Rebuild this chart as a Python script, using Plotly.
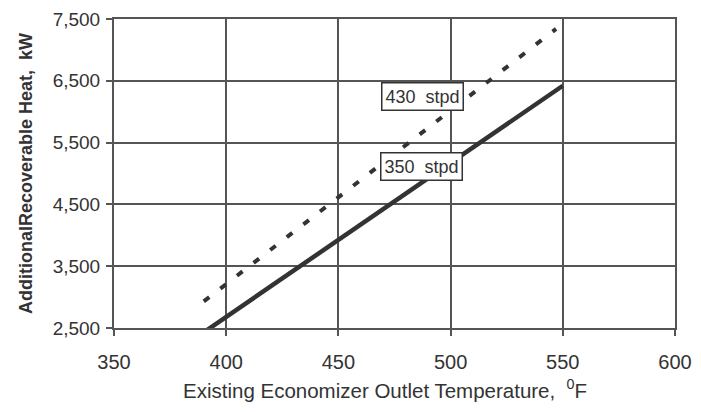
import plotly.graph_objects as go

# Data
temps_350 = [390, 550]
heat_350 = [2430, 6420]
temps_430 = [390, 547]
heat_430 = [2930, 7340]

label_350 = "350  stpd"
label_430 = "430  stpd"
label_pos_350 = (487, 5120)
label_pos_430 = (487.5, 6240)

x_ticks = [350, 400, 450, 500, 550, 600]
y_ticks = [2500, 3500, 4500, 5500, 6500, 7500]
y_tick_text = ["2,500", "3,500", "4,500", "5,500", "6,500", "7,500"]

x_title = "Existing Economizer Outlet Temperature,  <sup>0</sup>F"
y_title = "<b>AdditionalRecoverable Heat,  kW</b>"

ink = "#333333"
grid = "#555555"
font_family = "Liberation Sans, Arial, sans-serif"

fig = go.Figure()
fig.add_trace(go.Scatter(x=temps_430, y=heat_430, mode="lines",
                         line=dict(color=ink, width=4, dash="7px,14px"),
                         showlegend=False, hoverinfo="skip"))
fig.add_trace(go.Scatter(x=temps_350, y=heat_350, mode="lines",
                         line=dict(color=ink, width=4.5),
                         showlegend=False, hoverinfo="skip"))

for txt, (ax, ay) in [(label_430, label_pos_430), (label_350, label_pos_350)]:
    fig.add_annotation(x=ax, y=ay, text=txt, showarrow=False,
                       font=dict(family=font_family, size=18, color=ink),
                       bgcolor="white", bordercolor=ink, borderwidth=1.5,
                       borderpad=3)

# x-axis title, slightly left of the plot centre as in the original
fig.add_annotation(xref="paper", yref="paper", x=0.483, y=0, yanchor="bottom",
                   yshift=-76, text=x_title, showarrow=False,
                   font=dict(family=font_family, size=20.5, color=ink))

# page body has an 8px margin; keep the page from scrolling
fig.update_layout(
    width=693, height=396,
    margin=dict(l=106, r=26, t=11, b=76, autoexpand=False),
    paper_bgcolor="white", plot_bgcolor="white",
    font=dict(family=font_family, color=ink),
)
fig.update_xaxes(range=[350, 600], tickvals=x_ticks, automargin=False,
                 ticklabeloverflow="allow", ticklabelstandoff=9,
                 showgrid=True, gridcolor=grid, gridwidth=2,
                 showline=True, linecolor=grid, linewidth=2, mirror=True,
                 ticks="outside", ticklen=6, tickwidth=2, tickcolor=grid,
                 tickfont=dict(size=20, family=font_family, color=ink),
                 zeroline=False)
fig.update_yaxes(range=[2500, 7500], tickvals=y_ticks, ticktext=y_tick_text,
                 automargin=False, ticklabeloverflow="allow", ticklabelstandoff=2,
                 showgrid=True, gridcolor=grid, gridwidth=2,
                 showline=True, linecolor=grid, linewidth=2, mirror=True,
                 ticks="outside", ticklen=6, tickwidth=2, tickcolor=grid,
                 tickfont=dict(size=19, family=font_family, color=ink),
                 zeroline=False,
                 title=dict(text=y_title,
                            font=dict(size=18, family=font_family, color=ink),
                            standoff=15))

fig.write_html("out.html")
